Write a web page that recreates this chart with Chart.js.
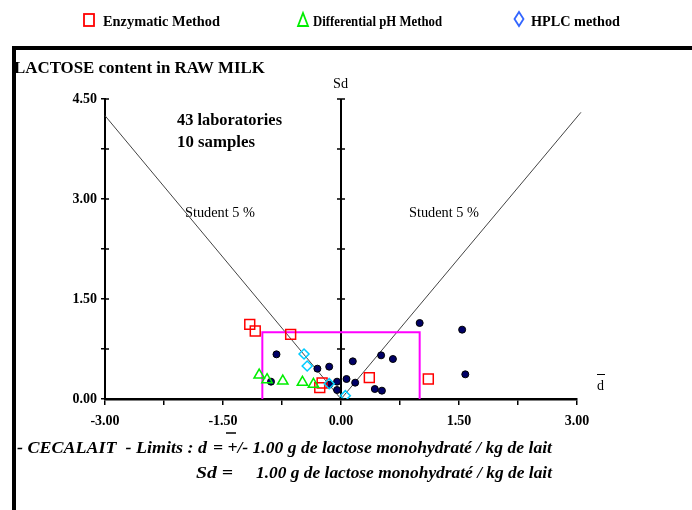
<!DOCTYPE html>
<html>
<head>
<meta charset="utf-8">
<script src="https://cdn.jsdelivr.net/npm/chart.js@4"></script>
<style>
  body { margin: 0; background: #fff; }
  canvas { display: block; }
</style>
</head>
<body>
<canvas id="chart" width="692" height="510"></canvas>
<script>
// values: d (mean difference) and Sd
var enzD = [-1.16, -1.09, -0.64, -0.24, -0.27, 0.36, 1.11];
var enzSd = [1.12, 1.02, 0.97, 0.24, 0.17, 0.32, 0.30];
var phD = [-1.04, -0.94, -0.74, -0.49, -0.35];
var phSd = [0.36, 0.29, 0.27, 0.25, 0.22];
var hplcD = [-0.47, -0.43, -0.15, 0.055];
var hplcSd = [0.675, 0.495, 0.23, 0.05];
var labD = [-0.82, -0.89, -0.30, -0.15, -0.05, -0.05, -0.15, 0.07, 0.15, 0.18, 0.51, 0.66, 0.43, 0.52, 1.00, 1.54, 1.58];
var labSd = [0.67, 0.26, 0.455, 0.485, 0.26, 0.135, 0.215, 0.30, 0.565, 0.245, 0.655, 0.60, 0.15, 0.125, 1.14, 1.04, 0.37];
// Student 5 % limit lines and the CECALAIT limit box
var studentD = [-3.0, 0, 3.05];
var studentSd = [4.25, 0, 4.30];
var limitD = [-1, -1, 1, 1];
var limitSd = [0, 1, 1, 0];
var sdAxisD = [0, 0];
var sdAxisSd = [0, 4.5];
var tickStep = 0.75;

function pts(xs, ys) {
    return xs.map(function (x, i) { return {x: x, y: ys[i]}; });
}

function fitText(ctx, str, x, y, w, font) {
    ctx.save();
    ctx.font = font;
    var m = ctx.measureText(str).width;
    ctx.translate(x, y);
    ctx.scale(w / m, 1);
    ctx.fillText(str, 0, 0);
    ctx.restore();
}

var serif = '"Liberation Serif", "Times New Roman", serif';

var decor = {
    id: 'decor',
    beforeDraw: function (chart) {
        var ctx = chart.ctx;
        ctx.save();
        ctx.fillStyle = '#fff';
        ctx.fillRect(0, 0, chart.width, chart.height);
        ctx.fillStyle = '#000';
        ctx.fillRect(12, 46, 680, 4);
        ctx.fillRect(12, 46, 4, 464);
        ctx.restore();
    },
    afterDraw: function (chart) {
        var ctx = chart.ctx;
        var xs = chart.scales.x, ys = chart.scales.y;
        ctx.save();
        ctx.fillStyle = '#000';
        ctx.strokeStyle = '#000';
        ctx.textBaseline = 'alphabetic';

        // inner half of y ticks, and ticks across the Sd axis
        var x0 = xs.getPixelForValue(0);
        ctx.lineWidth = 1.5;
        for (var v = 0; v <= 4.5 + 1e-9; v += tickStep) {
            var py = ys.getPixelForValue(v);
            ctx.beginPath();
            ctx.moveTo(xs.left, py); ctx.lineTo(xs.left + 4, py);
            ctx.moveTo(x0 - 4, py); ctx.lineTo(x0 + 4, py);
            ctx.stroke();
        }

        // legend
        ctx.lineWidth = 1.8;
        ctx.strokeStyle = '#ff0000';
        ctx.strokeRect(84, 14, 10, 12);
        ctx.strokeStyle = '#00ee00';
        ctx.beginPath();
        ctx.moveTo(303, 13); ctx.lineTo(308, 26); ctx.lineTo(298, 26); ctx.closePath();
        ctx.stroke();
        ctx.strokeStyle = '#3366ff';
        ctx.beginPath();
        ctx.moveTo(519, 12); ctx.lineTo(523.5, 19); ctx.lineTo(519, 26); ctx.lineTo(514.5, 19); ctx.closePath();
        ctx.stroke();
        var lf = 'bold 14px ' + serif;
        fitText(ctx, 'Enzymatic Method', 103, 26, 117, lf);
        fitText(ctx, 'Differential pH Method', 313, 26, 129, lf);
        fitText(ctx, 'HPLC method', 531, 26, 89, lf);

        ctx.strokeStyle = '#000';
        // titles and notes
        fitText(ctx, 'LACTOSE content in RAW MILK', 14, 73, 251, 'bold 17px ' + serif);
        fitText(ctx, '43 laboratories', 177, 125, 105, 'bold 17px ' + serif);
        fitText(ctx, '10 samples', 177, 147, 78, 'bold 17px ' + serif);
        var nf = '14px ' + serif;
        fitText(ctx, 'Student 5 %', 185, 217, 70, nf);
        fitText(ctx, 'Student 5 %', 409, 217, 70, nf);
        fitText(ctx, 'Sd', 333, 88, 15, nf);
        fitText(ctx, 'd', 597, 390, 7, nf);
        ctx.lineWidth = 1;
        ctx.beginPath(); ctx.moveTo(597, 374.5); ctx.lineTo(605, 374.5); ctx.stroke();

        // limits text
        var bf = 'italic bold 17px ' + serif;
        fitText(ctx, '- CECALAIT  - Limits : d', 17, 453, 190, bf);
        fitText(ctx, '= +/- 1.00 g de lactose monohydraté / kg de lait', 213, 453, 339, bf);
        fitText(ctx, 'Sd =', 196, 478, 37, bf);
        fitText(ctx, '1.00 g de lactose monohydraté / kg de lait', 256, 478, 296, bf);
        ctx.lineWidth = 1.5;
        ctx.beginPath(); ctx.moveTo(226, 433); ctx.lineTo(236, 433); ctx.stroke();
        ctx.restore();
    }
};

function tickLabel(value) {
    var r = value / 1.5;
    return Math.abs(r - Math.round(r)) < 1e-6 ? value.toFixed(2) : '';
}

new Chart(document.getElementById('chart'), {
    type: 'scatter',
    data: {
        datasets: [
            {label: 'HPLC method', data: pts(hplcD, hplcSd), pointStyle: 'rectRot', pointRadius: 5,
                borderColor: '#00ccff', backgroundColor: 'rgba(0,0,0,0)', borderWidth: 1.5, order: 1},
            {label: 'Differential pH Method', data: pts(phD, phSd), pointStyle: 'triangle', pointRadius: 6,
                borderColor: '#00ee00', backgroundColor: 'rgba(0,0,0,0)', borderWidth: 1.5, order: 2},
            {label: 'Enzymatic Method', data: pts(enzD, enzSd), pointStyle: 'rect', pointRadius: 7,
                borderColor: '#ff0000', backgroundColor: 'rgba(0,0,0,0)', borderWidth: 1.5, order: 3},
            {label: 'Laboratories', data: pts(labD, labSd), pointStyle: 'circle', pointRadius: 3.5,
                borderColor: '#000', backgroundColor: '#000066', borderWidth: 1, order: 4},
            {label: 'Limits', data: pts(limitD, limitSd), showLine: true, pointRadius: 0,
                borderColor: '#ff00ff', borderWidth: 2, order: 5},
            {label: 'Student 5 %', data: pts(studentD, studentSd), showLine: true, pointRadius: 0,
                borderColor: '#444', borderWidth: 1, clip: false, order: 6},
            {label: 'Sd', data: pts(sdAxisD, sdAxisSd), showLine: true, pointRadius: 0,
                borderColor: '#000', borderWidth: 2, order: 7}
        ]
    },
    options: {
        responsive: false,
        animation: false,
        devicePixelRatio: 1,
        layout: {padding: {left: 0, top: 99, right: 115, bottom: 71}},
        plugins: {legend: {display: false}, tooltip: {enabled: false}},
        scales: {
            x: {
                type: 'linear', min: -3, max: 3,
                afterFit: function (s) { s.height = 40; },
                ticks: {stepSize: tickStep, autoSkip: false, maxRotation: 0, padding: 8, color: '#000',
                    font: {family: serif, size: 14, weight: 'bold'}, callback: tickLabel},
                grid: {drawOnChartArea: false, drawTicks: true, tickLength: 6, color: '#000', lineWidth: 1.5},
                border: {display: true, color: '#000', width: 2.5}
            },
            y: {
                type: 'linear', min: 0, max: 4.5,
                afterFit: function (s) { s.width = 105; },
                ticks: {stepSize: tickStep, autoSkip: false, padding: 4, color: '#000',
                    font: {family: serif, size: 14, weight: 'bold'}, callback: tickLabel},
                grid: {drawOnChartArea: false, drawTicks: true, tickLength: 4, color: '#000', lineWidth: 1.5},
                border: {display: true, color: '#000', width: 2}
            }
        }
    },
    plugins: [decor]
});
</script>
</body>
</html>
